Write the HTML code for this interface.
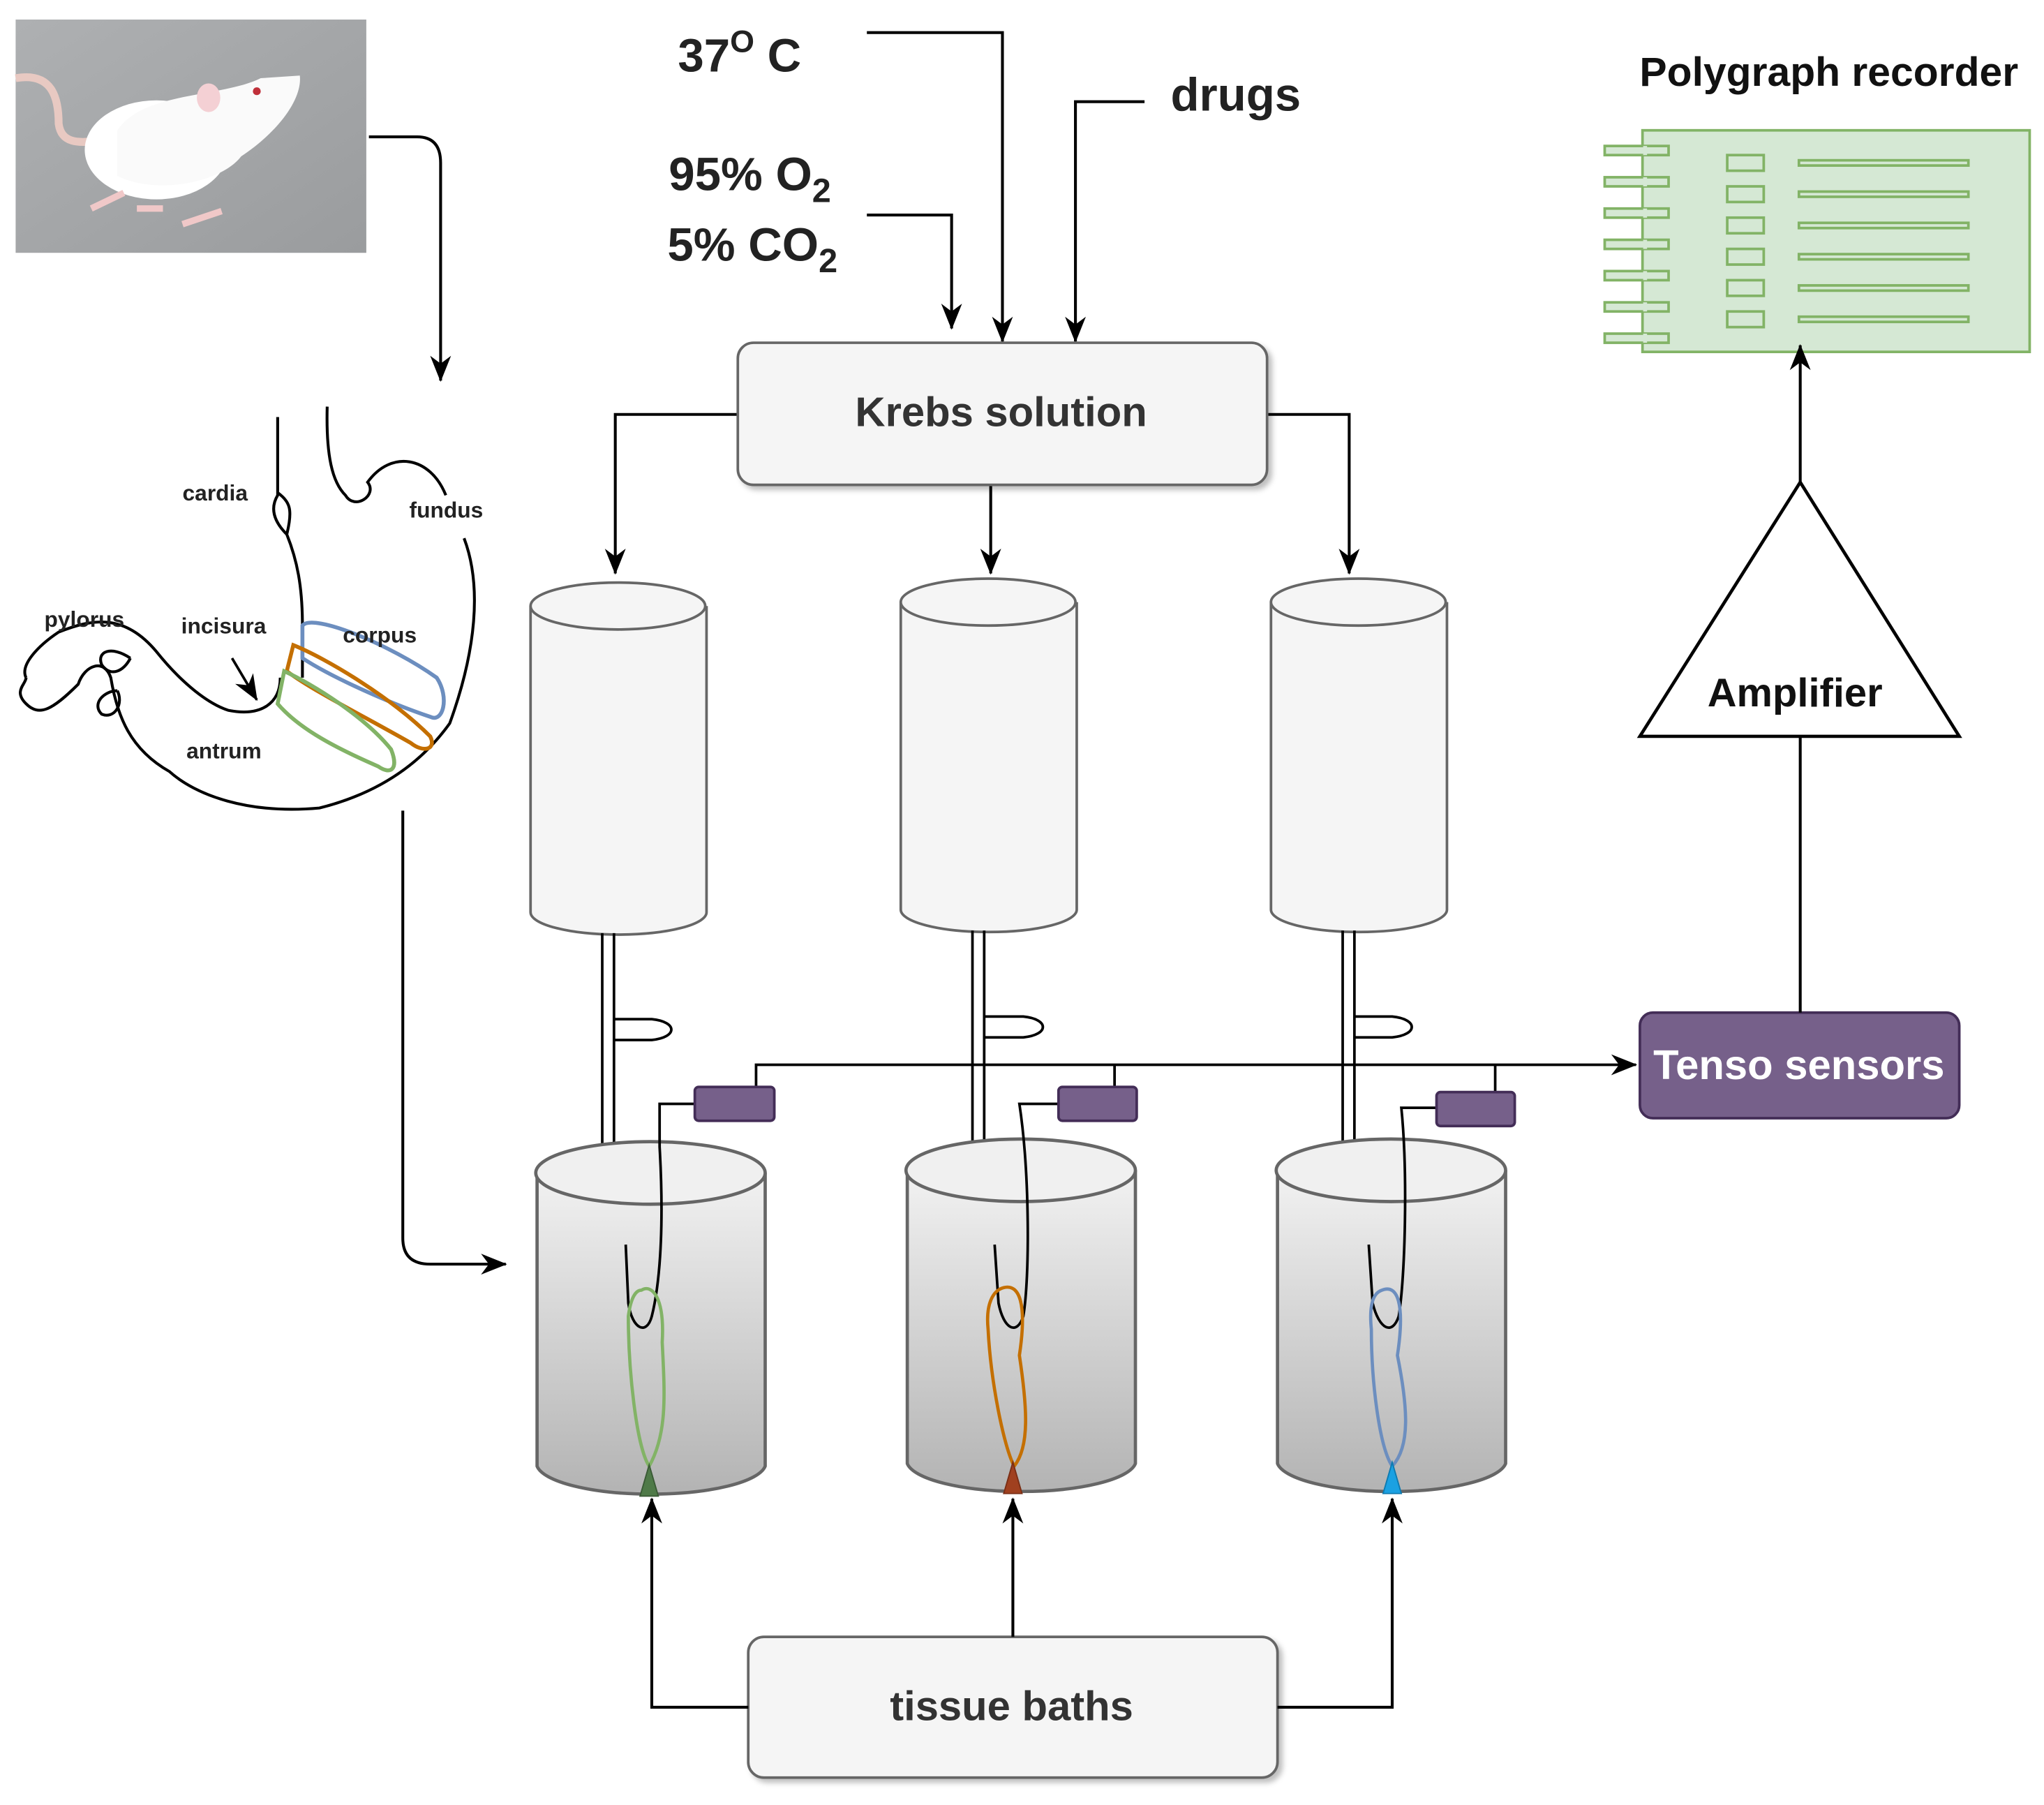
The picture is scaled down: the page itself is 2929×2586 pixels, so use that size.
<!DOCTYPE html>
<html><head><meta charset="utf-8"><style>html,body{margin:0;padding:0;background:#fff}svg{display:block}</style></head>
<body>
<svg width="2929" height="2586" viewBox="0 0 1568 1385" preserveAspectRatio="none" xmlns="http://www.w3.org/2000/svg" font-family="Liberation Sans, sans-serif">
<defs>
<marker id="ar" viewBox="0 0 10 10" refX="9.5" refY="5" markerWidth="20" markerHeight="16" orient="auto-start-reverse" markerUnits="userSpaceOnUse" preserveAspectRatio="none"><path d="M0,0 L10,5 L0,10 L3,5 z" fill="#000"/></marker>
<linearGradient id="bg" x1="0" y1="0" x2="0" y2="1"><stop offset="0" stop-color="#f2f2f2"/><stop offset="1" stop-color="#b3b3b3"/></linearGradient>
<linearGradient id="rg" x1="0" y1="0" x2="1" y2="1"><stop offset="0" stop-color="#aeb0b2"/><stop offset="1" stop-color="#9a9c9e"/></linearGradient>
<filter id="sh"><feDropShadow dx="3" dy="3" stdDeviation="2" flood-opacity="0.25"/></filter>
</defs>

<!-- rat photo -->
<rect x="12" y="15" width="269" height="179" fill="url(#rg)"/>
<path d="M12,60 C40,55 45,75 45,95 C47,110 60,110 75,108" stroke="#e8c9c2" stroke-width="6" fill="none"/>
<ellipse cx="120" cy="115" rx="55" ry="38" fill="#fff"/>
<path d="M90,100 C110,70 170,75 200,60 L230,58 C232,75 215,100 185,120 C170,140 120,150 90,135 z" fill="#fafafa"/>
<ellipse cx="160" cy="75" rx="9" ry="11" fill="#f4d0d4"/>
<circle cx="197" cy="70" r="3" fill="#c0303a"/>
<path d="M70,160 l25,-12 M140,172 l30,-10 M105,160 l20,0" stroke="#f0c8c8" stroke-width="5"/>

<!-- rat arrow -->
<path d="M283,105 L320,105 Q338,105 338,125 L338,292" stroke="#000" stroke-width="2.2" fill="none" marker-end="url(#ar)"/>

<!-- stomach -->
<g stroke="#000" stroke-width="2.2" fill="none">
<path d="M213,320 L213,380 C207,390 210,400 220,410 C225,390 222,385 213,378 M220,410 C228,430 232,450 232,480 L232,520"/>
<path d="M251,312 C250,350 255,370 265,380 C272,392 290,380 282,370 C300,345 330,350 342,380"/>
<path d="M356,413 C370,450 365,500 345,555 C320,590 285,610 245,620 C190,625 150,610 130,592 C100,575 90,550 85,520 C80,505 65,510 60,525 C40,545 30,550 20,540 C10,530 20,525 20,520"/>
<path d="M20,520 C15,510 30,495 45,485 C70,475 95,470 120,500 C140,525 160,540 175,545 C200,550 215,540 215,520"/>
<path d="M100,505 C95,515 85,520 78,510 C74,500 85,495 100,505 M90,530 C80,530 70,540 78,548 C88,552 95,540 90,530"/>
</g>
<path d="M178,505 L197,537" stroke="#000" stroke-width="2" marker-end="url(#ar)"/>
<g fill="none" stroke-width="3">
<path d="M232,480 C240,470 300,495 335,520 C345,535 340,555 330,550 C300,540 255,520 232,505 z" stroke="#6c8ebf"/>
<path d="M225,495 C250,505 300,535 330,565 C335,575 325,578 315,570 C280,550 240,530 220,515 z" stroke="#c46f00"/>
<path d="M218,515 C240,525 280,550 300,575 C306,590 300,595 290,588 C260,575 230,560 213,540 z" stroke="#82b366"/>
</g>
<g font-size="17" font-weight="bold" fill="#222">
<text x="140" y="384">cardia</text><text x="314" y="397">fundus</text>
<text x="34" y="481">pylorus</text><text x="139" y="486">incisura</text>
<text x="263" y="493">corpus</text><text x="143" y="582">antrum</text>
</g>

<!-- stomach arrow -->
<path d="M309,622 L309,950 Q309,970 330,970 L388,970" stroke="#000" stroke-width="2.2" fill="none" marker-end="url(#ar)"/>

<!-- top labels -->
<g font-weight="bold" fill="#222" font-size="36">
<text x="520" y="55">37<tspan font-size="24" dy="-15">O</tspan><tspan dy="15"> C</tspan></text>
<text x="898" y="85">drugs</text>
<text x="513" y="146">95% O<tspan font-size="26" dy="9">2</tspan></text>
<text x="512" y="200">5% CO<tspan font-size="26" dy="9">2</tspan></text>
</g>
<g stroke="#000" stroke-width="2.2" fill="none">
<path d="M665,25 L769,25 L769,262" marker-end="url(#ar)"/>
<path d="M878,78 L825,78 L825,262" marker-end="url(#ar)"/>
<path d="M665,165 L730,165 L730,252" marker-end="url(#ar)"/>
<path d="M566,318 L472,318 L472,440" marker-end="url(#ar)"/>
<path d="M760,372 L760,440" marker-end="url(#ar)"/>
<path d="M972,318 L1035,318 L1035,440" marker-end="url(#ar)"/>
</g>

<!-- Krebs box -->
<rect x="566" y="263" width="406" height="109" rx="12" fill="#f5f5f5" stroke="#666" stroke-width="2" filter="url(#sh)"/>
<text x="768" y="327" text-anchor="middle" font-size="32" font-weight="bold" fill="#333">Krebs solution</text>

<!-- reservoirs -->
<g fill="#f5f5f5" stroke="#666" stroke-width="2">
<path d="M407,465 L407,700 A67,17 0 0 0 542,700 L542,465"/><ellipse cx="474" cy="465" rx="67" ry="18"/>
<path d="M691,462 L691,698 A67,17 0 0 0 826,698 L826,462"/><ellipse cx="758" cy="462" rx="67" ry="18"/>
<path d="M975,462 L975,698 A67,17 0 0 0 1110,698 L1110,462"/><ellipse cx="1042" cy="462" rx="67" ry="18"/>
</g>

<!-- tubes -->
<g stroke="#000" stroke-width="2" fill="none">
<path d="M462,716 L462,880 M471,716 L471,880 M471,782 L500,782 C520,784 520,796 500,798 L471,798"/>
<path d="M746,714 L746,878 M755,714 L755,878 M755,780 L785,780 C805,782 805,794 785,796 L755,796"/>
<path d="M1030,714 L1030,878 M1039,714 L1039,878 M1039,780 L1068,780 C1088,782 1088,794 1068,796 L1039,796"/>
<path d="M580,834 L580,817 L1255,817" marker-end="url(#ar)"/>
<path d="M855,834 L855,817 M1147,838 L1147,817"/>
</g>

<!-- baths -->
<g fill="url(#bg)" stroke="#666" stroke-width="2.5">
<path d="M412,900 L412,1125 A88,24 0 0 0 587,1125 L587,900"/><ellipse cx="499" cy="900" rx="88" ry="24" fill="#f0f0f0"/>
<path d="M696,898 L696,1123 A88,24 0 0 0 871,1123 L871,898"/><ellipse cx="783" cy="898" rx="88" ry="24" fill="#f0f0f0"/>
<path d="M980,898 L980,1123 A88,24 0 0 0 1155,1123 L1155,898"/><ellipse cx="1067" cy="898" rx="88" ry="24" fill="#f0f0f0"/>
</g>

<!-- hooks -->
<g stroke="#000" stroke-width="2" fill="none">
<path d="M533,847 L506,847 L506,880 C510,950 505,990 500,1010 C496,1025 485,1020 482,1000 L480,955"/>
<path d="M812,847 L782,847 C790,900 790,980 785,1010 C780,1025 770,1020 766,1000 L763,955"/>
<path d="M1102,850 L1075,850 C1080,900 1078,980 1073,1010 C1068,1025 1058,1020 1053,1000 L1050,955"/>
</g>
<!-- tissues -->
<g fill="none" stroke-width="2.5">
<path d="M492,990 C500,985 510,995 508,1030 C510,1070 512,1100 498,1125 C488,1110 482,1050 482,1010 C484,995 488,990 492,990 z" stroke="#82b366"/>
<path d="M770,988 C782,985 788,1000 782,1040 C788,1080 790,1110 778,1125 C770,1110 760,1060 758,1020 C756,1000 762,990 770,988 z" stroke="#c46f00"/>
<path d="M1060,990 C1072,985 1078,1000 1072,1040 C1080,1080 1082,1110 1068,1125 C1058,1110 1052,1060 1052,1020 C1050,1000 1054,992 1060,990 z" stroke="#6c8ebf"/>
</g>
<path d="M498,1124 L491,1148 L505,1148 z" fill="#4f7a48" stroke="#3a5a35"/>
<path d="M777,1122 L770,1146 L784,1146 z" fill="#a0401f" stroke="#7a2e15"/>
<path d="M1068,1122 L1061,1146 L1075,1146 z" fill="#1ba1e2" stroke="#0e7ab0"/>

<!-- sensor boxes -->
<g fill="#76608a" stroke="#432d57" stroke-width="2">
<rect x="533" y="834" width="61" height="26" rx="3"/>
<rect x="812" y="834" width="60" height="26" rx="3"/>
<rect x="1102" y="838" width="60" height="26" rx="3"/>
</g>

<!-- tissue baths -->
<rect x="574" y="1256" width="406" height="108" rx="12" fill="#f5f5f5" stroke="#666" stroke-width="2" filter="url(#sh)"/>
<text x="776" y="1320" text-anchor="middle" font-size="32" font-weight="bold" fill="#333">tissue baths</text>
<g stroke="#000" stroke-width="2.2" fill="none">
<path d="M574,1310 L500,1310 L500,1150" marker-end="url(#ar)"/>
<path d="M777,1256 L777,1150" marker-end="url(#ar)"/>
<path d="M980,1310 L1068,1310 L1068,1150" marker-end="url(#ar)"/>
</g>

<!-- Tenso sensors -->
<rect x="1258" y="777" width="245" height="81" rx="10" fill="#76608a" stroke="#432d57" stroke-width="2"/>
<text x="1380" y="828" text-anchor="middle" font-size="32" font-weight="bold" fill="#fff">Tenso sensors</text>
<!-- Amplifier -->
<path d="M1381,370 L1258,565 L1503,565 z" fill="#fff" stroke="#000" stroke-width="2.5"/>
<text x="1377" y="542" text-anchor="middle" font-size="31" font-weight="bold" fill="#111">Amplifier</text>
<path d="M1381,777 L1381,565" stroke="#000" stroke-width="2.2"/>

<!-- Polygraph -->
<text x="1403" y="66" text-anchor="middle" font-size="31.5" font-weight="bold" fill="#111">Polygraph recorder</text>
<g fill="#d5e8d4" stroke="#82b366" stroke-width="2">
<rect x="1260" y="100" width="297" height="170"/>
<rect x="1231" y="112" width="49" height="7"/><rect x="1231" y="136" width="49" height="7"/>
<rect x="1231" y="160" width="49" height="7"/><rect x="1231" y="184" width="49" height="7"/>
<rect x="1231" y="208" width="49" height="7"/><rect x="1231" y="232" width="49" height="7"/>
<rect x="1231" y="256" width="49" height="7"/>
<rect x="1325" y="119" width="28" height="12"/><rect x="1325" y="143" width="28" height="12"/>
<rect x="1325" y="167" width="28" height="12"/><rect x="1325" y="191" width="28" height="12"/>
<rect x="1325" y="215" width="28" height="12"/><rect x="1325" y="239" width="28" height="12"/>
<rect x="1380" y="123" width="130" height="4"/><rect x="1380" y="147" width="130" height="4"/>
<rect x="1380" y="171" width="130" height="4"/><rect x="1380" y="195" width="130" height="4"/>
<rect x="1380" y="219" width="130" height="4"/><rect x="1380" y="243" width="130" height="4"/>
</g>
<path d="M1262,119 l0,-7 M1262,143 l0,-7 M1262,167 l0,-7 M1262,191 l0,-7 M1262,215 l0,-7 M1262,239 l0,-7 M1262,263 l0,-7" stroke="#d5e8d4" stroke-width="3"/>
<path d="M1381,370 L1381,265" stroke="#000" stroke-width="2.2" marker-end="url(#ar)"/>
</svg>
</body></html>
